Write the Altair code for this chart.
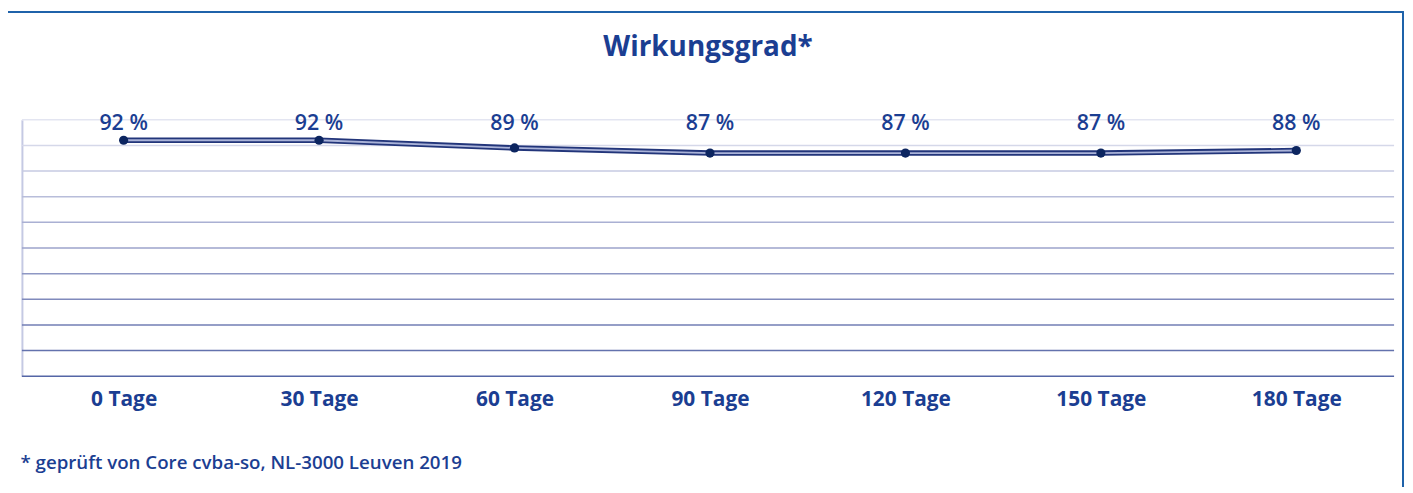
import altair as alt
import pandas as pd

days = ["0 Tage", "30 Tage", "60 Tage", "90 Tage", "120 Tage", "150 Tage", "180 Tage"]
values = [92, 92, 89, 87, 87, 87, 88]
labels = ["92 %", "92 %", "89 %", "87 %", "87 %", "87 %", "88 %"]
grid_values = [0, 10, 20, 30, 40, 50, 60, 70, 80, 90, 100]

TXT = "#1b3e92"
FONT = "Open Sans"

df = pd.DataFrame({"day": days, "value": values, "label": labels})
grid_df = pd.DataFrame({"g": grid_values})

xscale = alt.Scale(type="point", padding=0.5, range=[4, 1380])
xenc = alt.X("day:N", sort=days, title="* geprüft von Core cvba-so, NL-3000 Leuven 2019",
             scale=xscale,
             axis=alt.Axis(labelAngle=0, labelFont=FONT, labelFontSize=21, labelFontWeight="bold",
                           labelColor=TXT, labelPadding=12, ticks=False, domain=False, grid=False,
                           titleFont=FONT, titleFontSize=18.8, titleFontWeight=600, titleColor=TXT,
                           titleAnchor="start", titleAlign="left", titleX=-2, titleY=93,
                           titleBaseline="alphabetic"))
yscale = alt.Scale(domain=[0, 100], nice=False)

grid = alt.Chart(grid_df).mark_rule(strokeWidth=1.5).encode(
    y=alt.Y("g:Q", scale=yscale, axis=alt.Axis(labels=False, ticks=False, grid=False, title=None,
                                               domainColor="#c5c9e3", domainWidth=2)),
    color=alt.Color("g:Q", scale=alt.Scale(domain=[0, 100], range=["#5566a6", "#e3e5f1"]), legend=None),
)

base = alt.Chart(df).encode(x=xenc, y=alt.Y("value:Q", scale=yscale))
line_outer = base.mark_line(color="#22357a", strokeWidth=5.5)
line_inner = base.mark_line(color="#aab3d8", strokeWidth=1.8)
points = base.mark_circle(color="#0c2560", opacity=1, size=85)
text = alt.Chart(df).mark_text(font=FONT, fontSize=21.5, fontWeight=600, color=TXT,
                               baseline="alphabetic").encode(
    x=alt.X("day:N", sort=days, scale=xscale), y=alt.datum(96), text="label:N")

border = alt.Chart(df).mark_rect(fill=None, stroke="#1f62aa", strokeWidth=1.5, clip=False).encode(
    x=alt.value(-15), x2=alt.value(1389), y=alt.value(-108), y2=alt.value(600))

chart = alt.layer(grid, line_outer, line_inner, points, text, border).properties(
    width=1380, height=258,
    title=alt.TitleParams("Wirkungsgrad*", font=FONT, fontSize=28, fontWeight="bold", color=TXT,
                          anchor="middle", offset=-51, frame="group"),
    autosize=alt.AutoSizeParams(type="none"),
    padding={"left": 14, "top": 111, "right": 11, "bottom": 110},
).configure_view(stroke=None)

chart.save("out.html", embed_options={"renderer": "svg", "actions": False})
